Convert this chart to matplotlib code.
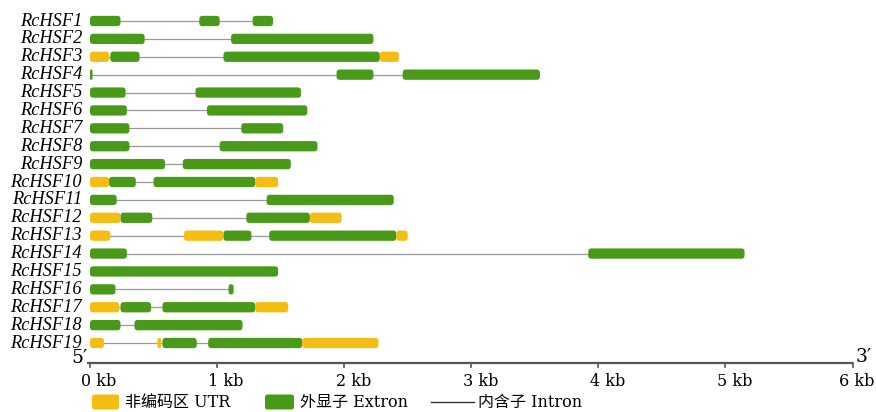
import matplotlib
matplotlib.use("Agg")
import matplotlib.pyplot as plt
from matplotlib.patches import FancyBboxPatch

genes = ["RcHSF1", "RcHSF2", "RcHSF3", "RcHSF4", "RcHSF5", "RcHSF6", "RcHSF7",
         "RcHSF8", "RcHSF9", "RcHSF10", "RcHSF11", "RcHSF12", "RcHSF13", "RcHSF14",
         "RcHSF15", "RcHSF16", "RcHSF17", "RcHSF18", "RcHSF19"]

# exon (start, end) in kb
exons = [
    [(0, 0.24), (0.86, 1.02), (1.28, 1.44)],
    [(0, 0.43), (1.11, 2.23)],
    [(0.16, 0.39), (1.05, 2.28)],
    [(0, 0.02), (1.94, 2.23), (2.46, 3.54)],
    [(0, 0.28), (0.83, 1.66)],
    [(0, 0.29), (0.92, 1.71)],
    [(0, 0.31), (1.19, 1.52)],
    [(0, 0.31), (1.02, 1.79)],
    [(0, 0.59), (0.73, 1.58)],
    [(0.15, 0.36), (0.50, 1.30)],
    [(0, 0.21), (1.39, 2.39)],
    [(0.24, 0.49), (1.23, 1.73)],
    [(1.05, 1.27), (1.41, 2.41)],
    [(0, 0.29), (3.92, 5.15)],
    [(0, 1.48)],
    [(0, 0.20), (1.09, 1.13)],
    [(0.24, 0.48), (0.57, 1.30)],
    [(0, 0.24), (0.35, 1.20)],
    [(0.57, 0.84), (0.93, 1.67)],
]

# UTR (start, end) in kb
utrs = [
    [], [], [(0, 0.15), (2.28, 2.43)], [], [], [], [], [], [],
    [(0, 0.15), (1.30, 1.48)],
    [],
    [(0, 0.24), (1.73, 1.98)],
    [(0, 0.16), (0.74, 1.05), (2.41, 2.50)],
    [], [], [],
    [(0, 0.23), (1.30, 1.56)],
    [],
    [(0, 0.11), (0.53, 0.56), (1.67, 2.27)],
]

kb_ticks = [0, 1, 2, 3, 4, 5, 6]

GREEN = "#4a9a1a"
YELLOW = "#f5bd14"
GREY = "#9a9a9a"

W, H = 876, 412
PX_PER_KB = 127.1
X0_PX = 90        # pixel of 0 kb
ROW0_PX = 21      # pixel of first gene row
ROW_PX = 17.89    # pixels between rows

fig = plt.figure(figsize=(W / 100, H / 100), dpi=100)
ax = fig.add_axes([0, 0, 1, 1])
ax.set_xlim(-X0_PX / PX_PER_KB, (W - X0_PX) / PX_PER_KB)
ax.set_ylim((H - ROW0_PX) / ROW_PX, -ROW0_PX / ROW_PX)
ax.axis("off")

def row_of(px):
    return (px - ROW0_PX) / ROW_PX

def kb(px):
    return (px - X0_PX) / PX_PER_KB

bar_h = 10.3 / ROW_PX
aspect = PX_PER_KB / ROW_PX
r_kb = 3.2 / PX_PER_KB

def box(x0, x1, y, color, h=bar_h, r0=r_kb):
    w = x1 - x0
    r = min(r0, w / 2, h / aspect / 2)
    p = FancyBboxPatch((x0, y - h / 2), w, h,
                       boxstyle="round,pad=0,rounding_size=%f" % r,
                       mutation_aspect=aspect, facecolor=color,
                       edgecolor="none", zorder=3)
    ax.add_patch(p)

label_font = dict(family="Liberation Serif", style="italic", fontsize=13.2)

for i, name in enumerate(genes):
    feats = exons[i] + utrs[i]
    start = min(f[0] for f in feats)
    end = max(f[1] for f in feats)
    ax.plot([start + 0.01, end - 0.01], [i, i], color=GREY, lw=0.9, zorder=1,
            solid_capstyle="butt")
    for s, e in exons[i]:
        box(s, e, i, GREEN)
    for s, e in utrs[i]:
        box(s, e, i, YELLOW)
    ax.text(kb(82), i, name, ha="right", va="center", **label_font)

# scale bar
axis_y = row_of(363)
ax.plot([kb(87), kb_ticks[-1]], [axis_y, axis_y], color="#555555", lw=1.6,
        solid_capstyle="butt")
tick_font = dict(family=["DejaVu Serif", "Noto Sans CJK SC"], fontsize=11.5)
for k in kb_ticks:
    ax.plot([k, k], [axis_y, axis_y + 3.5 / ROW_PX], color="#555555", lw=1.2)
    cx = min(k + 9 / PX_PER_KB, kb(W - 19))
    ax.text(cx, row_of(382), "%d kb" % k, ha="center", va="center", **tick_font)
end_font = dict(family="DejaVu Serif", fontsize=13.5)
ax.text(kb(88), row_of(358), "5\u2032", ha="right", va="center", **end_font)
ax.text(kb(856), row_of(357), "3\u2032", ha="left", va="center", **end_font)

# legend
leg_y = row_of(402)
leg_h = 15 / ROW_PX
for x0, x1, color, text in [(92, 119, YELLOW, "非编码区 UTR"),
                            (265, 294, GREEN, "外显子 Extron")]:
    box(kb(x0), kb(x1), leg_y, color, h=leg_h, r0=2.5 / PX_PER_KB)
    ax.text(kb(x1 + 6), leg_y, text, ha="left", va="center", **tick_font)
ax.plot([kb(431), kb(474)], [leg_y, leg_y], color="#333333", lw=1.0)
ax.text(kb(478), leg_y, "内含子 Intron", ha="left", va="center", **tick_font)

fig.savefig("out.png", dpi=100)
